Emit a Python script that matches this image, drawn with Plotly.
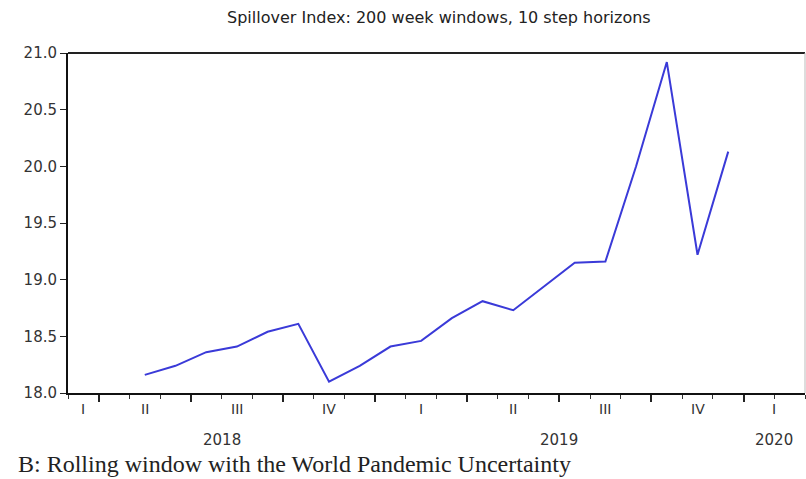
import pandas as pd
import plotly.graph_objects as go

# Monthly spillover index (rolling 200-week windows, 10-step horizons)
months = ["2018-05", "2018-06", "2018-07", "2018-08", "2018-09", "2018-10",
          "2018-11", "2018-12", "2019-01", "2019-02", "2019-03", "2019-04",
          "2019-05", "2019-06", "2019-07", "2019-08", "2019-09", "2019-10",
          "2019-11", "2019-12"]
spillover = [18.16, 18.24, 18.36, 18.41, 18.54, 18.61,
             18.10, 18.24, 18.41, 18.46, 18.66, 18.81,
             18.73, 18.94, 19.15, 19.16, 20.00, 20.92,
             19.22, 20.13]

axis_start = "2018-03"   # first month shown on the axis
axis_end = "2020-03"     # axis ends at the start of this month
quarter_names = ["I", "II", "III", "IV"]
y_ticks = [18.0, 18.5, 19.0, 19.5, 20.0, 20.5, 21.0]

start = pd.Period(axis_start, "M")
end = pd.Period(axis_end, "M")
n_months = (end - start).n


def month_pos(p):
    return (pd.Period(p, "M") - start).n


# each monthly value sits in the middle of its month
x_vals = [month_pos(m) + 0.5 for m in months]

fig = go.Figure()
fig.add_trace(go.Scatter(
    x=x_vals, y=spillover, mode="lines",
    line=dict(color="#3a3ad8", width=2),
    showlegend=False, hoverinfo="skip",
))

# quarter boundaries (major ticks) and month ticks (minor)
all_months = [start + i for i in range(n_months + 1)]
quarter_ticks = [i for i, p in enumerate(all_months) if p.month in (1, 4, 7, 10)]

sans = "DejaVu Sans, Verdana, sans-serif"
annotations = []
# quarter labels centred on the visible part of each quarter
q_periods = sorted({p.asfreq("Q") for p in all_months[:-1]})
for q in q_periods:
    q0 = (q.asfreq("M", how="start") - start).n
    q1 = (q.asfreq("M", how="end") - start).n + 1
    lo, hi = max(q0, 0), min(q1, n_months)
    annotations.append(dict(
        x=(lo + hi) / 2, y=0, xref="x", yref="paper", yanchor="middle",
        yshift=-16, text=quarter_names[q.quarter - 1], showarrow=False,
        font=dict(family=sans, size=14, color="#333"),
    ))
# year labels
years = sorted({p.year for p in all_months[:-1]})
for yr in years:
    y0 = (pd.Period(f"{yr}-01", "M") - start).n
    y1 = y0 + 12
    lo, hi = max(y0, 0), min(y1, n_months)
    annotations.append(dict(
        x=(lo + hi) / 2, y=0, xref="x", yref="paper", yanchor="middle",
        yshift=-47, text=str(yr), showarrow=False,
        font=dict(family=sans, size=15, color="#333"),
    ))

annotations.append(dict(
    x=0.5, y=1, xref="paper", yref="paper", yanchor="middle", yshift=36,
    xshift=2, text="Spillover Index: 200 week windows, 10 step horizons",
    showarrow=False,
    font=dict(family=sans, size=16, color="#222"),
))
annotations.append(dict(
    x=0, y=0, xref="paper", yref="paper", xanchor="left", yanchor="middle",
    xshift=-52, yshift=-71,
    text="B: Rolling window with the World Pandemic Uncertainty",
    showarrow=False,
    font=dict(family="Liberation Serif, Times New Roman, serif", size=24,
              color="#222"),
))

fig.update_layout(
    width=806, height=479,
    margin=dict(l=68, r=1, t=53, b=86),
    paper_bgcolor="white", plot_bgcolor="white",
    annotations=annotations,
    xaxis=dict(
        range=[0, n_months], showgrid=False, zeroline=False,
        tickmode="array", tickvals=quarter_ticks, showticklabels=False,
        ticks="outside", ticklen=7, tickwidth=1.5, tickcolor="#222",
        minor=dict(tickmode="linear", tick0=0, dtick=1, ticks="outside",
                   ticklen=4, tickwidth=1, tickcolor="#333"),
        showline=True, linecolor="#111", linewidth=1.5, mirror=False,
    ),
    yaxis=dict(
        range=[18, 21], tickvals=y_ticks, tickformat=".1f",
        showgrid=False, zeroline=False,
        ticks="outside", ticklen=6, tickwidth=1.2, tickcolor="#222",
        showline=True, linecolor="#111", linewidth=2,
        tickfont=dict(family=sans, size=15, color="#333"),
    ),
    shapes=[
        dict(type="line", xref="paper", yref="paper", x0=0, x1=1, y0=1, y1=1,
             line=dict(color="#222", width=2)),
        dict(type="line", xref="paper", yref="paper", x0=1, x1=1, y0=0, y1=1,
             line=dict(color="#bbb", width=1)),
    ],
)

fig.write_html("out.html")
